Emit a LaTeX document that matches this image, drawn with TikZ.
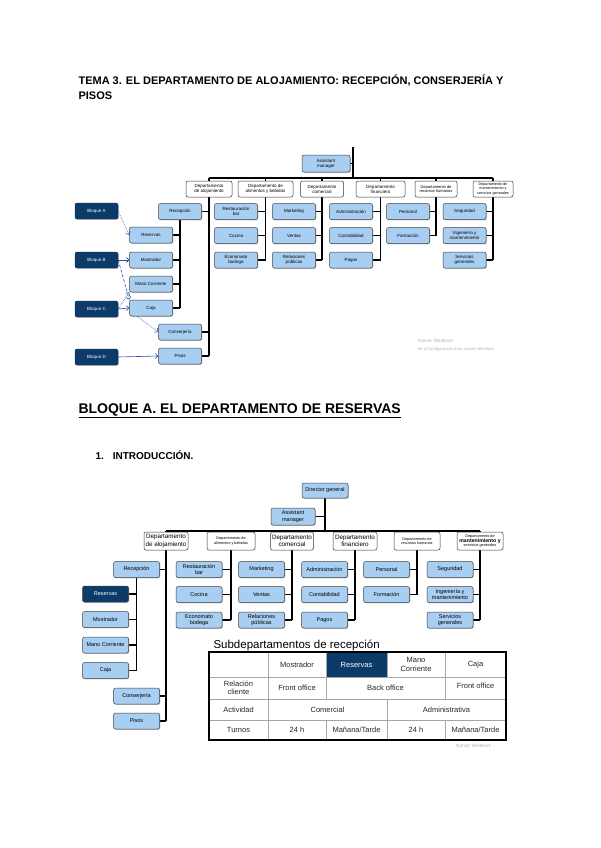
\documentclass[tikz,border=0pt]{standalone}
\usepackage{fontspec}
\setmainfont{Liberation Sans}
\usetikzlibrary{arrows.meta,backgrounds,shadows}
\definecolor{celeste}{RGB}{168,206,242}
\definecolor{azulosc}{RGB}{12,58,105}
\definecolor{flecha}{RGB}{45,75,175}
\newcommand{\tam}[1]{\fontsize{#1}{1.12\dimexpr#1pt\relax}\selectfont}

\begin{document}
\begin{tikzpicture}[x=1pt, y=-1pt,
    % Cajas de subdepartamento (azul claro)
    subA/.style={draw=black!75, fill=celeste, rounded corners=2pt, line width=0.5pt, minimum width=43pt, minimum height=16pt, inner sep=0.5pt, align=center, font=\tam{4.5}, drop shadow={shadow xshift=0.8pt, shadow yshift=-0.8pt, opacity=0.45}},
    subB/.style={subA, minimum width=46pt, font=\tam{5.5}},
    % Departamentos (blanco)
    deptA/.style={draw=black!80, fill=white, rounded corners=2pt, line width=0.5pt, minimum height=16pt, inner sep=0.5pt, align=center, font=\tam{4.5}},
    deptB/.style={deptA, minimum height=18pt, font=\tam{6.3}},
    bloque/.style={draw=azulosc!80!black, fill=azulosc, text=white, rounded corners=2pt, minimum width=43pt, minimum height=16pt, inner sep=0.5pt, font=\tam{4.5}, drop shadow={shadow xshift=0.8pt, shadow yshift=-0.8pt, opacity=0.45}},
    % Lineas del organigrama
    link/.style={line width=1.5pt, draw=black},
    ruta/.style={draw=flecha, line width=0.6pt, -{Straight Barb[length=2.5pt, width=5pt]}},
    celda/.style={draw=black!35, line width=0.5pt},
    txt/.style={font=\tam{7.5}, align=center, text=black!85},
    marca/.style={font=\tam{4.8}, text=black!30, anchor=west}
]
\useasboundingbox (0,0) rectangle (600,848);

% --- Encabezados ---
\node[anchor=base west, font=\bfseries\tam{11}] (tit1) at (75,85) {TEMA 3. EL DEPARTAMENTO DE ALOJAMIENTO: RECEPCIÓN, CONSERJERÍA Y};
\node[anchor=base west, font=\bfseries\tam{11}] (tit2) at (75,100) {PISOS};

% --- Organigrama general ---
\coordinate (cimaA) at (353,147);
\coordinate (busA) at (353,178);
\node[subA, minimum width=48pt, minimum height=17pt] (asisA) at (326,163.5) {Assistant\\manager};

\node[deptA, minimum width=46pt] (alojA) at (209,189) {Departamento\\de alojamiento};
\node[deptA, minimum width=55pt] (aybA) at (265.5,189) {Departamento de\\alimentos y bebidas};
\node[deptA, minimum width=43pt] (comA) at (322,189) {Departamento\\comercial};
\node[deptA, minimum width=49pt] (finA) at (380.5,189) {Departamento\\financiero};
\node[deptA, minimum width=42pt, font=\tam{4}] (rrhhA) at (436,189) {Departamento de\\recursos humanos};
\node[deptA, minimum width=40pt, font=\tam{3.7}] (mantA) at (493,189) {Departamento de\\mantenimiento y\\servicios generales};

% alojamiento
\node[subA] (recA) at (180,211.5) {Recepción};
\node[subA] (resA) at (151,235) {Reservas};
\node[subA] (mosA) at (151,260) {Mostrador};
\node[subA] (manA) at (151,284) {Mano Corriente};
\node[subA] (cajA) at (151,308) {Caja};
\node[subA] (conA) at (180,332) {Conserjería};
\node[subA] (pisA) at (180,356) {Pisos};

% resto de departamentos
\node[subA] (restA) at (236,211.5) {Restauración\\bar};
\node[subA] (cocA) at (236,235.5) {Cocina};
\node[subA] (ecoA) at (236,260) {Economato\\bodega};
\node[subA] (mkA) at (294,211.5) {Marketing};
\node[subA] (venA) at (294,235.5) {Ventas};
\node[subA] (relA) at (294,260) {Relaciones\\públicas};
\node[subA] (admA) at (351,211.5) {Administración};
\node[subA] (contA) at (351,235.5) {Contabilidad};
\node[subA] (pagA) at (351,260) {Pagos};
\node[subA] (perA) at (408,211.5) {Personal};
\node[subA] (forA) at (408,235.5) {Formación};
\node[subA] (segA) at (464.5,211.5) {Seguridad};
\node[subA] (ingA) at (464.5,235.5) {Ingeniería y\\mantenimiento};
\node[subA] (serA) at (464.5,260) {Servicios\\generales};

% bloques del tema
\node[bloque] (bA) at (96.5,211) {Bloque A};
\node[bloque] (bB) at (96.5,260) {Bloque B};
\node[bloque] (bC) at (96.5,309) {Bloque C};
\node[bloque] (bD) at (96.5,357) {Bloque D};

\begin{scope}[on background layer]
  \draw[link] (cimaA) -- (busA);
  \draw[link] (asisA.east) -- (asisA.east -| cimaA);
  \draw[link] (alojA.center |- busA) -- (mantA.center |- busA);
  \foreach \d/\u in {alojA/pisA, aybA/ecoA, comA/relA, finA/pagA, rrhhA/forA, mantA/serA}
    \draw[link] (\d.center |- busA) -- (\u.east -| \d.center);
  \foreach \d/\h in {alojA/recA, alojA/conA, alojA/pisA, aybA/restA, aybA/cocA, aybA/ecoA,
      comA/mkA, comA/venA, comA/relA, finA/admA, finA/contA, finA/pagA,
      rrhhA/perA, rrhhA/forA, mantA/segA, mantA/ingA, mantA/serA}
    \draw[link] (\h.east) -- (\h.east -| \d.center);
  \draw[link] (recA.south) -- (cajA.east -| recA.south);
  \foreach \h in {resA, mosA, manA, cajA}
    \draw[link] (\h.east) -- (\h.east -| recA.south);
  \draw[ruta, densely dashed] (bB.east) -- (cajA.north west);
\end{scope}

\draw[ruta, densely dotted] (bA.east) -- (resA.west);
\draw[ruta] (bB.east) -- (mosA.west);
\draw[ruta, densely dotted] (bC.east) -- (manA.south west);
\draw[ruta] (bC.east) -- (cajA.west);
\draw[ruta, densely dotted] (cajA.south west) ++(8,0) coordinate (cajS) -- (conA.west);
\draw[ruta] (bD.east) -- (pisA.west);

\node[marca] (act1) at (414,341) {Activar Windows};
\node[marca, font=\tam{4.2}] (act2) at (414,349) {Ve a Configuración para activar Windows.};

% --- Bloque A ---
\node[anchor=base west, font=\bfseries\tam{14}] (bloqA) at (75,413) {\underline{BLOQUE A. EL DEPARTAMENTO DE RESERVAS}};
\node[anchor=base west, font=\bfseries\tam{10}] (intro) at (92,459) {1.\hspace{9pt}INTRODUCCIÓN.};

% --- Organigrama del departamento de alojamiento ---
\node[subB, minimum width=46pt, minimum height=15pt] (dirB) at (325,490.5) {Director general};
\node[subB, minimum width=44pt, minimum height=17pt] (asisB) at (293,516.5) {Assistant\\manager};
\coordinate (busB) at (325,531);

\node[deptB, minimum width=44pt] (alojB) at (166,541) {Departamento\\de alojamiento};
\node[deptB, minimum width=48pt, font=\tam{3.8}] (aybB) at (231,541) {Departamento de\\alimentos y bebidas};
\node[deptB, minimum width=43pt] (comB) at (292,541) {Departamento\\comercial};
\node[deptB, minimum width=44pt] (finB) at (355,541) {Departamento\\financiero};
\node[deptB, minimum width=46pt, font=\tam{3.8}] (rrhhB) at (417,541) {Departamento de\\recursos humanos};
\node[deptB, minimum width=46pt, font=\tam{3.8}] (mantB) at (480,541) {Departamento de\\{\tam{5.2}\bfseries mantenimiento y}\\servicios generales};

\node[subB] (recB) at (136.5,569.5) {Recepción};
\node[subB, fill=azulosc, text=white] (resB) at (105.5,594) {Reservas};
\node[subB] (mosB) at (105.5,619.5) {Mostrador};
\node[subB] (manB) at (105.5,645) {Mano Corriente};
\node[subB] (cajB) at (105.5,670.5) {Caja};
\node[subB] (conB) at (136.5,696) {Conserjería};
\node[subB] (pisB) at (136.5,721) {Pisos};

\node[subB] (restB) at (199,569.5) {Restauración\\bar};
\node[subB] (cocB) at (199,594.5) {Cocina};
\node[subB] (ecoB) at (199,620) {Economato\\bodega};
\node[subB] (mkB) at (261.5,569.5) {Marketing};
\node[subB] (venB) at (261.5,594.5) {Ventas};
\node[subB] (relB) at (261.5,620) {Relaciones\\públicas};
\node[subB] (admB) at (324.5,569.5) {Administración};
\node[subB] (contB) at (324.5,594.5) {Contabilidad};
\node[subB] (pagB) at (324.5,620) {Pagos};
\node[subB] (perB) at (386.5,569.5) {Personal};
\node[subB] (forB) at (386.5,594.5) {Formación};
\node[subB] (segB) at (450,569.5) {Seguridad};
\node[subB] (ingB) at (450,594.5) {Ingeniería y\\mantenimiento};
\node[subB] (serB) at (450,620) {Servicios\\generales};

\begin{scope}[on background layer]
  \draw[link] (dirB.south) -- (busB);
  \draw[link] (asisB.east) -- (asisB.east -| busB);
  \draw[link] (alojB.center |- busB) -- (mantB.center |- busB);
  \foreach \d/\u in {alojB/pisB, aybB/ecoB, comB/relB, finB/pagB, rrhhB/forB, mantB/serB}
    \draw[link] (\d.center |- busB) -- (\u.east -| \d.center);
  \foreach \d/\h in {alojB/recB, alojB/conB, alojB/pisB, aybB/restB, aybB/cocB, aybB/ecoB,
      comB/mkB, comB/venB, comB/relB, finB/admB, finB/contB, finB/pagB,
      rrhhB/perB, rrhhB/forB, mantB/segB, mantB/ingB, mantB/serB}
    \draw[link] (\h.east) -- (\h.east -| \d.center);
  \draw[link] (recB.south) -- (cajB.east -| recB.south);
  \foreach \h in {resB, mosB, manB, cajB}
    \draw[link] (\h.east) -- (\h.east -| recB.south);
\end{scope}

% --- Tabla de subdepartamentos ---
\node[anchor=west, font=\tam{11.5}] (tabtit) at (210,645) {Subdepartamentos de recepción};
\fill[azulosc] (326,652) rectangle (387,677);
\draw[celda] (209,677) -- (506,677) (209,699) -- (506,699) (209,720) -- (506,720);
\draw[celda] (268,652) -- (268,740);
\draw[celda] (326,652) -- (326,699) (326,720) -- (326,740);
\draw[celda] (387,652) -- (387,677) (387,699) -- (387,740);
\draw[celda] (445,652) -- (445,699) (445,720) -- (445,740);
\draw[line width=1.2pt] (209,652) rectangle (506,740);

\node[txt] (hMos) at (297,664.5) {Mostrador};
\node[txt, text=white] (hRes) at (356.5,664.5) {Reservas};
\node[txt] (hMan) at (416,664.5) {Mano\\Corriente};
\node[txt] (hCaj) at (475.5,664.5) {Caja};
\node[txt] (fRel) at (238.5,688) {Relación\\cliente};
\node[txt] (fRelMos) at (297,688) {Front office};
\node[txt] (fRelBack) at (385.5,688) {Back office};
\node[txt] (fRelCaj) at (475.5,686) {Front office};
\node[txt] (fAct) at (238.5,709.5) {Actividad};
\node[txt] (fActCom) at (327.5,709.5) {Comercial};
\node[txt] (fActAdm) at (446.5,709.5) {Administrativa};
\node[txt] (fTur) at (238.5,730) {Turnos};
\node[txt] (fTur1) at (297,730) {24 h};
\node[txt] (fTur2) at (356.5,730) {Mañana/Tarde};
\node[txt] (fTur3) at (416,730) {24 h};
\node[txt] (fTur4) at (475.5,730) {Mañana/Tarde};

\node[marca] (act3) at (452,746) {Activar Windows};
\end{tikzpicture}
\end{document}
